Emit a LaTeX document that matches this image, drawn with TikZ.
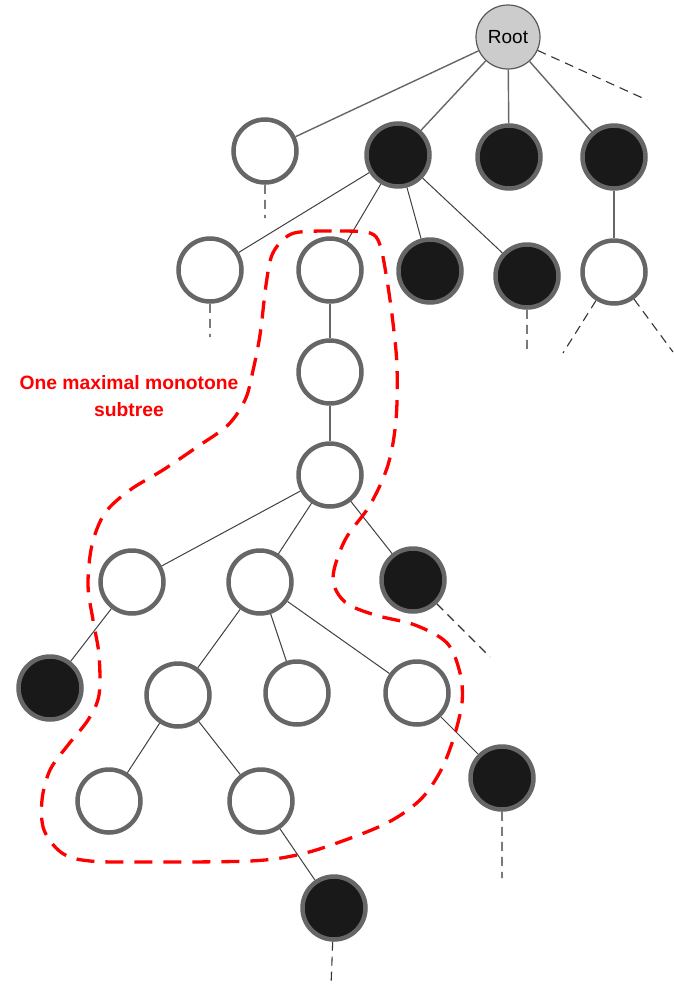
\documentclass[tikz,border=0pt]{standalone}
\usepackage{fontspec}
\setmainfont{Liberation Sans}

\tikzset{
  wnode/.style={circle, draw=black!60, line width=4.5, fill=white, minimum size=63, inner sep=0},
  bnode/.style={wnode, fill=black!90},
  rootnode/.style={circle, draw=black!65, line width=1.2, fill=black!20, minimum size=64, inner sep=0, font=\fontsize{19}{22}\selectfont},
  tedge/.style={draw=black!75, line width=1},
  leafdash/.style={draw=black!80, line width=1.1, dash pattern=on 9 off 6},
  subtree/.style={draw=red, line width=3.3, dash pattern=on 18 off 11}
}

\begin{document}
\begin{tikzpicture}[x=1pt, y=-1pt]
  \useasboundingbox (0,0) rectangle (674,988);

  % Knoten
  \node[rootnode] (r) at (508,37) {Root};

  \node[wnode] (a) at (265,151) {};
  \node[bnode] (b) at (398,155) {};
  \node[bnode] (c) at (509,157) {};
  \node[bnode] (d) at (614,157) {};

  \node[wnode] (b1) at (210,270) {};
  \node[wnode] (b2) at (330,270) {};
  \node[bnode] (b3) at (430,271) {};
  \node[bnode] (b4) at (527,276) {};
  \node[wnode] (d1) at (614,272) {};

  \node[wnode] (m1) at (330,372) {};
  \node[wnode] (m2) at (330,475) {};

  \node[wnode] (p) at (132,582) {};
  \node[wnode] (q) at (260,582) {};
  \node[bnode] (s) at (413,580) {};

  \node[bnode] (p1) at (50,688) {};
  \node[wnode] (q1) at (178,695) {};
  \node[wnode] (q2) at (297,693) {};
  \node[wnode] (q3) at (417,693) {};

  \node[wnode] (q11) at (109,801) {};
  \node[wnode] (q12) at (261,801) {};
  \node[bnode] (q31) at (502,778) {};
  \node[bnode] (q121) at (334,908) {};

  % Kanten
  \draw[tedge, line width=1.4, draw=black!60] (r) -- (a) (r) -- (b) (r) -- (c) (r) -- (d);
  \draw[tedge] (b) -- (b1) (b) -- (b2) (b) -- (b3) (b) -- (b4);
  \draw[tedge, line width=1.4, draw=black!60] (d) -- (d1) (b2) -- (m1) (m1) -- (m2);
  \draw[tedge] (m2) -- (p) (m2) -- (q) (m2) -- (s);
  \draw[tedge] (p) -- (p1) (q) -- (q1) (q) -- (q2) (q) -- (q3);
  \draw[tedge] (q1) -- (q11) (q1) -- (q12) (q3) -- (q31) (q12) -- (q121);

  % offene Enden
  \coordinate (re) at (647,100);
  \coordinate (ae) at (265,218);
  \coordinate (b1e) at (210,337);
  \coordinate (b4e) at (527,352);
  \coordinate (d1l) at (563,353);
  \coordinate (d1r) at (673,352);
  \coordinate (se) at (490,657);
  \coordinate (q31e) at (502,878);
  \coordinate (q121e) at (331,986);
  \draw[leafdash] (r) -- (re) (a) -- (ae) (b1) -- (b1e) (b4) -- (b4e);
  \draw[leafdash] (d1) -- (d1l) (d1) -- (d1r) (s) -- (se);
  \draw[leafdash] (q31) -- (q31e) (q121) -- (q121e);

  % Teilbaum
  \draw[subtree] plot[smooth cycle, tension=0.55] coordinates {
    (300,232) (340,231) (370,233) (380,245) (387,280) (393,323) (397,367)
    (396,420) (388,465) (370,505) (345,540) (333,578) (345,602) (375,615)
    (415,625) (447,643) (460,673) (462,703) (453,740) (440,772) (420,800)
    (387,823) (337,843) (297,855) (250,861) (150,862) (90,861) (62,853)
    (44,830) (42,800) (50,770) (68,745) (88,720) (99,695) (99,655) (93,620)
    (88,585) (92,545) (105,513) (130,490) (163,470) (197,447) (228,425)
    (245,400) (252,375) (260,335) (266,285) (272,255) (285,238)};

  \node[text=red, align=center, font=\bfseries\fontsize{19.3}{27}\selectfont] (lbl) at (129,396) {One maximal monotone\\subtree};
\end{tikzpicture}
\end{document}
